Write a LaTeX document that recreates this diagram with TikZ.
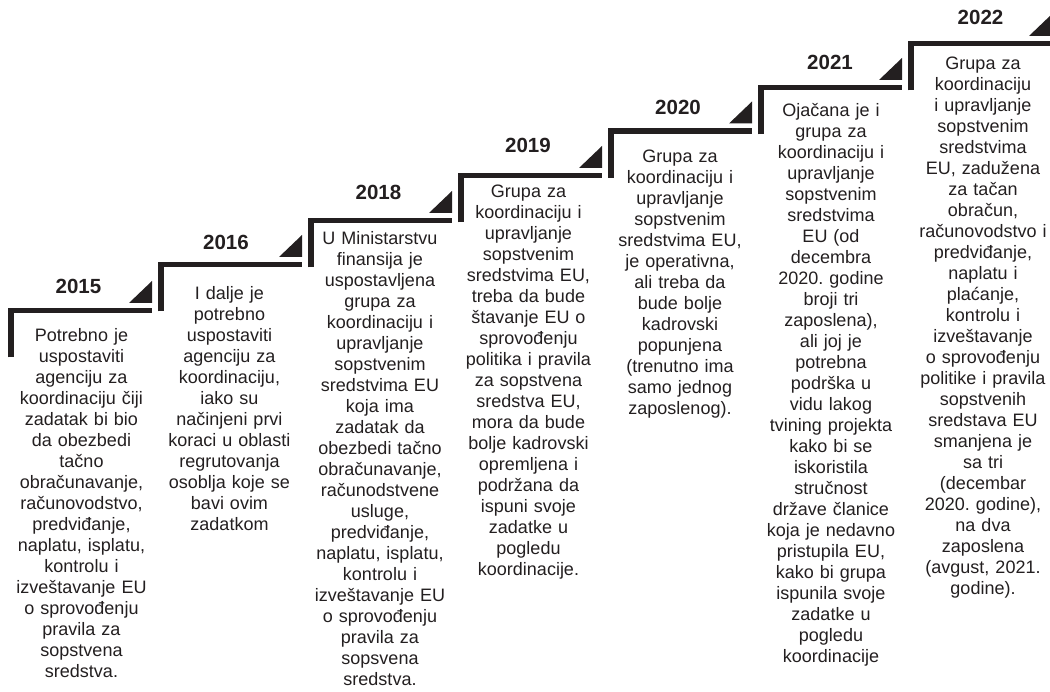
\documentclass[tikz,border=0pt]{standalone}
\usepackage{fontspec}
\setmainfont{Liberation Sans}
\frenchspacing
\definecolor{ink}{HTML}{231F20}
\tikzset{
  yr/.style={font=\fontsize{20.5}{24}\selectfont\bfseries, text=ink, inner sep=0pt, anchor=base},
  body/.style={font=\fontsize{18}{21}\selectfont, text=ink, align=center, text width=170pt, inner sep=0pt, anchor=base},
  stair/.style={draw=ink, line width=5.5pt, line join=miter},
  flag/.style={fill=ink, draw=none}
}
\begin{document}
\begin{tikzpicture}[x=1pt,y=-1pt]
\useasboundingbox (0,0) rectangle (1050,692);
\fill[white] (0,0) rectangle (1050,692);
% steps
\foreach \sx/\sy in {8/310.5,158/264.5,308/220.5,458/175.5,608/131,758/87.5,908/43.5}{
  \draw[stair] (\sx+2.75,\sy+47) -- (\sx+2.75,\sy) -- (\sx+144,\sy);
  \fill[flag] (\sx+121,\sy-7.5) -- (\sx+144,\sy-7.5) -- (\sx+144,\sy-29.5) -- cycle;
}
% years
\node[yr] (y2015) at (78.5,294) {2015};
\node[yr] (y2016) at (226,250) {2016};
\node[yr] (y2018) at (378.5,199.3) {2018};
\node[yr] (y2019) at (528,153) {2019};
\node[yr] (y2020) at (678,114.3) {2020};
\node[yr] (y2021) at (830,70) {2021};
\node[yr] (y2022) at (980.5,25) {2022};
% texts
\node[body] (t2015) at (81.5,342) {Potrebno je\\uspostaviti\\agenciju za\\koordinaciju čiji\\zadatak bi bio\\da obezbedi\\tačno\\obračunavanje,\\računovodstvo,\\predviđanje,\\naplatu, isplatu,\\kontrolu i\\izveštavanje EU\\o sprovođenju\\pravila za\\sopstvena\\sredstva.};
\node[body] (t2016) at (229.5,300) {I dalje je\\potrebno\\uspostaviti\\agenciju za\\koordinaciju,\\iako su\\načinjeni prvi\\koraci u oblasti\\regrutovanja\\osoblja koje se\\bavi ovim\\zadatkom};
\node[body] (t2018) at (380,245) {U Ministarstvu\\finansija je\\uspostavljena\\grupa za\\koordinaciju i\\upravljanje\\sopstvenim\\sredstvima EU\\koja ima\\zadatak da\\obezbedi tačno\\obračunavanje,\\računodstvene\\usluge,\\predviđanje,\\naplatu, isplatu,\\kontrolu i\\izveštavanje EU\\o sprovođenju\\pravila za\\sopsvena\\sredstva.};
\node[body] (t2019) at (528.5,198) {Grupa za\\koordinaciju i\\upravljanje\\sopstvenim\\sredstvima EU,\\treba da bude\\štavanje EU o\\sprovođenju\\politika i pravila\\za sopstvena\\sredstva EU,\\mora da bude\\bolje kadrovski\\opremljena i\\podržana da\\ispuni svoje\\zadatke u\\pogledu\\koordinacije.};
\node[body] (t2020) at (680,163) {Grupa za\\koordinaciju i\\upravljanje\\sopstvenim\\sredstvima EU,\\je operativna,\\ali treba da\\bude bolje\\kadrovski\\popunjena\\(trenutno ima\\samo jednog\\zaposlenog).};
\node[body] (t2021) at (831,117) {Ojačana je i\\grupa za\\koordinaciju i\\upravljanje\\sopstvenim\\sredstvima\\EU (od\\decembra\\2020. godine\\broji tri\\zaposlena),\\ali joj je\\potrebna\\podrška u\\vidu lakog\\tvining projekta\\kako bi se\\iskoristila\\stručnost\\države članice\\koja je nedavno\\pristupila EU,\\kako bi grupa\\ispunila svoje\\zadatke u\\pogledu\\koordinacije};
\node[body] (t2022) at (983,70) {Grupa za\\koordinaciju\\i upravljanje\\sopstvenim\\sredstvima\\EU, zadužena\\za tačan\\obračun,\\računovodstvo i\\predviđanje,\\naplatu i\\plaćanje,\\kontrolu i\\izveštavanje\\o sprovođenju\\politike i pravila\\sopstvenih\\sredstava EU\\smanjena je\\sa tri\\(decembar\\2020. godine),\\na dva\\zaposlena\\(avgust, 2021.\\godine).};
\end{tikzpicture}
\end{document}
